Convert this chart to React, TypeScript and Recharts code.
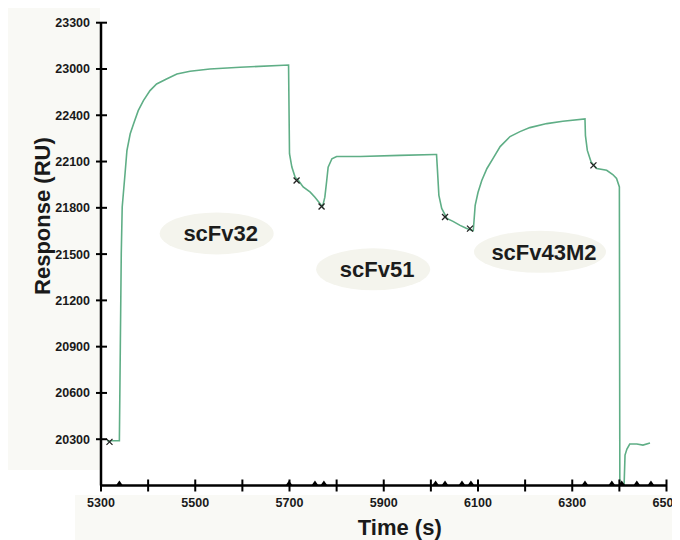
import { ComposedChart, Line, Scatter, XAxis, YAxis, ReferenceDot } from "recharts"

// y axis of the original is not linear: ten evenly spaced ticks
const yTickLabels = [20300, 20600, 20900, 21200, 21500, 21800, 22100, 22400, 23000, 23300]
const yBase = 20000

const xTicks = [5300, 5400, 5500, 5600, 5700, 5800, 5900, 6000, 6100, 6200, 6300, 6400, 6500]
const xLabelTicks = [5300, 5500, 5700, 5900, 6100, 6300, 6500]

// sensorgram trace
const timeS = [
  5313, 5325, 5339, 5341, 5343, 5345, 5351, 5355, 5362, 5369, 5379, 5390, 5404, 5418, 5439, 5461,
  5489, 5531, 5595, 5698, 5700, 5705, 5712, 5719, 5729, 5744, 5754, 5765, 5770, 5775, 5779, 5782,
  5790, 5800, 5850, 5934, 6009, 6012, 6014, 6017, 6023, 6034, 6047, 6062, 6075, 6087, 6090, 6094,
  6100, 6108, 6119, 6132, 6147, 6168, 6189, 6210, 6246, 6280, 6327, 6328, 6332, 6340, 6352, 6373,
  6386, 6394, 6400, 6401, 6410, 6412, 6416, 6422, 6437, 6450, 6465,
]
const responseRU = [
  20288, 20290, 20290, 20900, 21500, 21805, 22021, 22171, 22280, 22344, 22460, 22590, 22720, 22806, 22871, 22936,
  22970, 23000, 23011, 23026, 22151, 22064, 21998, 21977, 21935, 21902, 21869, 21827, 21806, 21869, 21977, 22064,
  22118, 22133, 22133, 22140, 22146, 22146, 22043, 21881, 21796, 21731, 21712, 21686, 21667, 21653, 21653, 21816,
  21899, 21977, 22055, 22121, 22197, 22262, 22294, 22320, 22346, 22361, 22376, 22268, 22172, 22097, 22055, 22043,
  22016, 21990, 21935, 20000, 20000, 20197, 20236, 20269, 20269, 20262, 20275,
]

// injection markers sitting on the time axis
const injectionTimes = [5339, 5699, 5754, 5773, 6010, 6030, 6066, 6085, 6327, 6384, 6405, 6437, 6467]

// small black marks on the trace
const markTimes = [5318, 5715, 5768, 6030, 6083, 6345]
const markRU = [20283, 21977, 21809, 21740, 21665, 22075]

const labelNames = ["scFv32", "scFv51", "scFv43M2"]
const labelTimes = [5554, 5886, 6240]
const labelRU = [21634, 21401, 21515]

const font = "'Liberation Sans', Arial, sans-serif"

function toPos(ru: number) {
  const stops = [yBase, ...yTickLabels]
  for (let i = 0; i < stops.length - 1; i++) {
    if (ru <= stops[i + 1] || i === stops.length - 2) {
      return i + (ru - stops[i]) / (stops[i + 1] - stops[i])
    }
  }
  return 0
}

const curve = timeS.map((t, i) => ({ t, pos: toPos(responseRU[i]) }))
const injections = injectionTimes.map((t) => ({ t, pos: 0 }))
const marks = markTimes.map((t, i) => ({ t, pos: toPos(markRU[i]) }))

function YTick({ x, y, payload }: any) {
  return (
    <g>
      <line x1={x - 5} x2={x + 6} y1={y} y2={y} stroke="#000" strokeWidth={2} />
      <text x={x - 11} y={y} dy="0.36em" textAnchor="end" fontSize={12.5} fontWeight="bold" fontFamily={font} fill="#1a1a1a">
        {yTickLabels[payload.value - 1]}
      </text>
    </g>
  )
}

function XTick({ x, y, payload }: any) {
  return (
    <g>
      <line x1={x} x2={x} y1={y - 6} y2={y + 6} stroke="#000" strokeWidth={2} />
      {xLabelTicks.includes(payload.value) && (
        <text x={x} y={y + 21} textAnchor="middle" fontSize={12.5} fontWeight="bold" fontFamily={font} fill="#1a1a1a">
          {payload.value}
        </text>
      )}
    </g>
  )
}

function Triangle({ cx, cy }: any) {
  return <path d={`M${cx - 3.5},${cy} L${cx},${cy - 5} L${cx + 3.5},${cy} Z`} fill="#000" />
}

function Cross({ cx, cy }: any) {
  return (
    <path d={`M${cx - 3},${cy - 3} L${cx + 3},${cy + 3} M${cx - 3},${cy + 3} L${cx + 3},${cy - 3}`} stroke="#222" strokeWidth={1.3} />
  )
}

function Bubble(name: string) {
  return ({ cx, cy }: any) => (
    <g>
      <ellipse cx={cx - 4} cy={cy} rx={30 + name.length * 4.5} ry={21} fill="#f4f4ed" />
      <text x={cx} y={cy} dy="0.36em" textAnchor="middle" fontSize={22} fontWeight="bold" fontFamily={font} fill="#1c1c1c">
        {name}
      </text>
    </g>
  )
}

export default function App() {
  return (
    <div style={{ position: "relative", width: 672, height: 532 }}>
      <div style={{ position: "absolute", left: 0, top: 0, width: 92, height: 462, background: "#f9f9f5" }} />
      <div style={{ position: "absolute", left: 67, top: 487, width: 605, height: 45, background: "#f9f9f5" }} />
      <ComposedChart
        width={672}
        height={532}
        margin={{ top: 14.7, right: 13.5, bottom: 4.5, left: 33 }}
        style={{ position: "relative" }}
      >
        <XAxis
          type="number"
          dataKey="t"
          domain={[5300, 6500]}
          ticks={xTicks}
          interval={0}
          allowDataOverflow
          height={50}
          tickSize={0}
          tickMargin={0}
          tickLine={false}
          tick={<XTick />}
          axisLine={{ stroke: "#000", strokeWidth: 2.5 }}
          label={{
            content: ({ viewBox }: any) => (
              <text
                x={viewBox.x + viewBox.width / 2 + 16}
                y={viewBox.y + 49}
                textAnchor="middle"
                fontSize={22}
                fontWeight="bold"
                fontFamily={font}
                fill="#1a1a1a"
              >
                Time (s)
              </text>
            ),
          }}
        />
        <YAxis
          type="number"
          dataKey="pos"
          domain={[0, 10]}
          ticks={yTickLabels.map((_, i) => i + 1)}
          interval={0}
          allowDataOverflow
          width={60}
          tickSize={0}
          tickMargin={0}
          tickLine={false}
          tick={<YTick />}
          axisLine={{ stroke: "#000", strokeWidth: 2.5 }}
          label={{
            content: ({ viewBox }: any) => {
              const cx = viewBox.x + 1
              const cy = viewBox.y + viewBox.height / 2 - 38
              return (
                <text
                  x={cx}
                  y={cy}
                  transform={`rotate(-90 ${cx} ${cy})`}
                  textAnchor="middle"
                  dy="0.36em"
                  fontSize={22}
                  fontWeight="bold"
                  fontFamily={font}
                  fill="#1a1a1a"
                >
                  Response (RU)
                </text>
              )
            },
          }}
        />
        {labelNames.map((name, i) => (
          <ReferenceDot
            key={name}
            x={labelTimes[i]}
            y={toPos(labelRU[i])}
            r={1}
            ifOverflow="visible"
            shape={Bubble(name)}
          />
        ))}
        <Line
          data={curve}
          dataKey="pos"
          type="linear"
          stroke="#5fae86"
          strokeWidth={1.6}
          dot={false}
          activeDot={false}
          isAnimationActive={false}
        />
        <Scatter data={marks} dataKey="pos" shape={<Cross />} isAnimationActive={false} />
        <Scatter data={injections} dataKey="pos" shape={<Triangle />} isAnimationActive={false} />
      </ComposedChart>
    </div>
  )
}
